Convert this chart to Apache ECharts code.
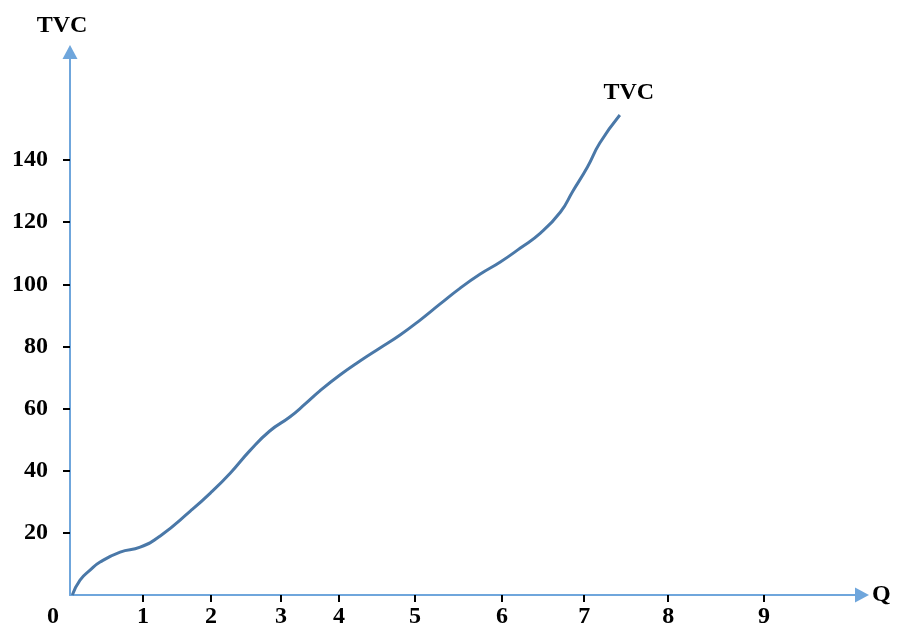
<!DOCTYPE html>
<html>
<head>
<meta charset="utf-8">
<title>TVC</title>
<script src="https://cdn.jsdelivr.net/npm/echarts@6/dist/echarts.min.js"></script>
<style>
  html, body { margin: 0; padding: 0; background: #ffffff; }
  #chart { width: 897px; height: 629px; }
</style>
</head>
<body>
<div id="chart"></div>
<script>
// Output positions of the hand-placed Q tick marks and their labels
const qTickPos = [0, 0.947, 1.829, 2.737, 3.489, 4.475, 5.603, 6.667, 7.756, 9.0];
const qTickLabels = ['0', '1', '2', '3', '4', '5', '6', '7', '8', '9'];

// Cost tick values on the vertical axis
const costTicks = [20, 40, 60, 80, 100, 120, 140];

// Total variable cost curve
const qValues = [0.03, 0.13, 0.26, 0.39, 0.65, 0.91, 1.17, 1.56, 1.82, 2.08, 2.33, 2.59, 2.85, 3.05, 3.24, 3.50, 3.76, 4.02, 4.28, 4.54, 4.80, 5.06, 5.32, 5.58, 5.84, 6.10, 6.36, 6.52, 6.71, 6.87, 7.13];
const tvcValues = [0, 4.8, 8.0, 10.6, 13.8, 15.4, 19.0, 27.0, 32.8, 39.3, 46.4, 52.8, 57.3, 61.5, 65.7, 70.8, 75.3, 79.5, 83.7, 88.5, 93.7, 98.8, 103.3, 107.2, 111.7, 116.5, 123.3, 130.0, 137.8, 145.5, 154.5];

const curveName = 'TVC';

const FONT = "'Liberation Serif', 'Times New Roman', serif";
const AXIS_COLOR = '#6fa6dc';

const seriesData = qValues.map(function (q, i) { return [q, tvcValues[i]]; });

const chart = echarts.init(document.getElementById('chart'), null, { renderer: 'canvas' });

chart.setOption({
  animation: false,
  backgroundColor: '#ffffff',
  grid: { left: 70, right: 35, top: 52, bottom: 34, containLabel: false },
  xAxis: {
    type: 'value',
    min: 0,
    max: 10.27,
    name: 'Q',
    nameLocation: 'end',
    nameGap: 10,
    nameTextStyle: { fontFamily: FONT, fontWeight: 'bold', fontSize: 24, color: '#000', verticalAlign: 'middle', align: 'left' },
    splitLine: { show: false },
    axisLine: {
      show: true,
      onZero: false,
      symbol: ['none', 'triangle'],
      symbolSize: [15, 14],
      lineStyle: { color: AXIS_COLOR, width: 2 }
    },
    axisTick: {
      show: true,
      customValues: qTickPos.slice(1),
      length: 7,
      lineStyle: { color: '#000', width: 2 }
    },
    axisLabel: {
      show: true,
      customValues: qTickPos,
      margin: 10,
      fontFamily: FONT,
      fontWeight: 'bold',
      fontSize: 24,
      color: '#000',
      formatter: function (v) {
        const i = qTickPos.indexOf(v);
        const t = i >= 0 ? qTickLabels[i] : '';
        return i === 0 ? '{z|' + t + '}' : t;
      },
      rich: {
        z: { fontFamily: FONT, fontWeight: 'bold', fontSize: 24, color: '#000', padding: [0, 34, 0, 0] }
      }
    }
  },
  yAxis: {
    type: 'value',
    min: 0,
    max: 174.8,
    name: 'TVC',
    nameLocation: 'end',
    nameGap: 14,
    nameTextStyle: { fontFamily: FONT, fontWeight: 'bold', fontSize: 24, color: '#000', padding: [0, 16, 0, 0] },
    splitLine: { show: false },
    axisLine: {
      show: true,
      onZero: false,
      symbol: ['none', 'triangle'],
      symbolSize: [15, 14],
      lineStyle: { color: AXIS_COLOR, width: 2 }
    },
    axisTick: {
      show: true,
      customValues: costTicks,
      length: 7,
      lineStyle: { color: '#000', width: 2 }
    },
    axisLabel: {
      show: true,
      customValues: costTicks,
      margin: 22,
      fontFamily: FONT,
      fontWeight: 'bold',
      fontSize: 24,
      color: '#000'
    }
  },
  series: [{
    type: 'line',
    name: curveName,
    data: seriesData,
    smooth: 0.5,
    showSymbol: false,
    symbol: 'none',
    lineStyle: { color: '#4a78a8', width: 3 },
    endLabel: {
      show: true,
      formatter: curveName,
      distance: 0,
      align: 'center',
      verticalAlign: 'middle',
      offset: [9, -22],
      fontFamily: FONT,
      fontWeight: 'bold',
      fontSize: 24,
      color: '#000'
    },
    z: 3
  }]
});
</script>
</body>
</html>
